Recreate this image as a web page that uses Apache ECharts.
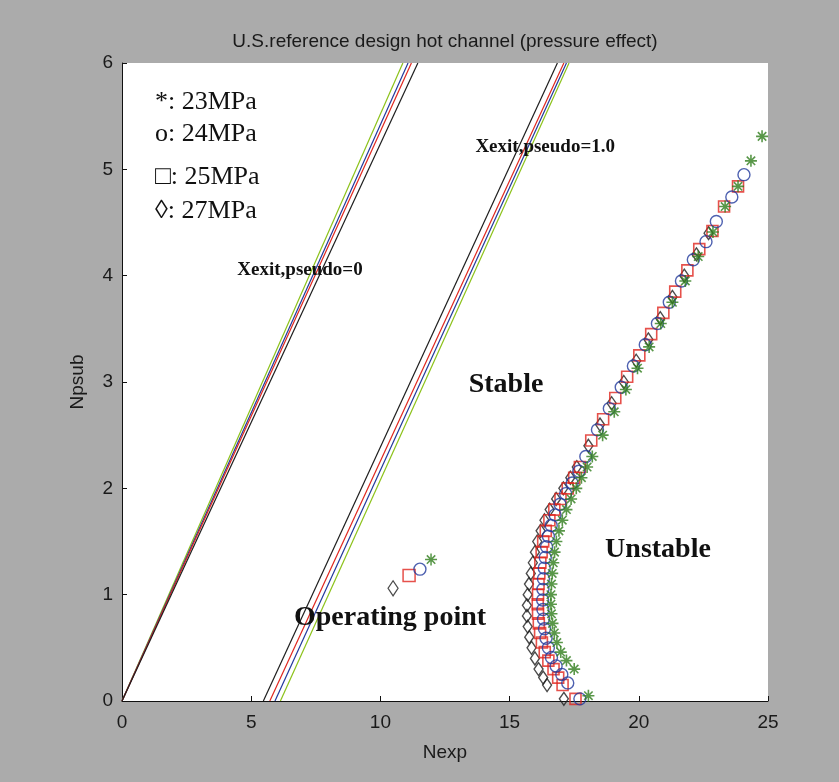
<!DOCTYPE html>
<html>
<head>
<meta charset="utf-8">
<script src="https://cdn.jsdelivr.net/npm/echarts@6/dist/echarts.min.js"></script>
<style>
html,body{margin:0;padding:0;background:#ababab;}
#c{width:839px;height:782px;}
</style>
</head>
<body>
<div id="c"></div>
<script>
// ---- data (Nexp, Npsub) ----
const xTickLabels = ['0','5','10','15','20','25'];
const yTickLabels = ['0','1','2','3','4','5','6'];
const legendTexts = ['*: 23MPa','o: 24MPa','\u25A1: 25MPa','\u25CA: 27MPa'];

// Xexit,pseudo = 0 lines
const x0_23 = [[0,0],[10.87,6]];
const x0_24 = [[0,0],[11.07,6]];
const x0_25 = [[0,0],[11.2,6]];
const x0_27 = [[0,0],[11.45,6]];
// Xexit,pseudo = 1.0 lines
const x1_23 = [[6.13,0],[17.3,6]];
const x1_24 = [[5.92,0],[17.2,6]];
const x1_25 = [[5.72,0],[17.1,6]];
const x1_27 = [[5.47,0],[16.85,6]];

// operating points
const op23 = [[11.96,1.33]];
const op24 = [[11.53,1.24]];
const op25 = [[11.11,1.18]];
const op27 = [[10.49,1.06]];

// neutral stability boundaries
const b27 = [[17.1,0.02],[16.45,0.15],[16.3,0.22],[16.12,0.3],[15.98,0.4],[15.85,0.5],[15.76,0.6],[15.7,0.7],[15.67,0.8],[15.67,0.9],[15.7,1.0],[15.75,1.1],[15.82,1.2],[15.9,1.3],[15.98,1.4],[16.07,1.5],[16.2,1.6],[16.35,1.7],[16.55,1.8],[16.8,1.9],[17.08,2.0],[17.35,2.1],[17.6,2.2],[18.05,2.4],[18.5,2.6],[18.95,2.8],[19.42,3.0],[19.9,3.2],[20.37,3.4],[20.83,3.6],[21.3,3.8],[21.76,4.0],[22.23,4.2],[22.7,4.4]];
const b25 = [[17.55,0.02],[17.05,0.15],[16.88,0.22],[16.7,0.3],[16.5,0.38],[16.36,0.46],[16.25,0.55],[16.18,0.64],[16.13,0.73],[16.1,0.82],[16.09,0.91],[16.1,1.0],[16.12,1.1],[16.15,1.2],[16.19,1.3],[16.24,1.4],[16.3,1.5],[16.4,1.6],[16.54,1.7],[16.73,1.8],[16.97,1.9],[17.25,2.0],[17.5,2.1],[17.72,2.2],[18.16,2.45],[18.62,2.65],[19.09,2.85],[19.55,3.05],[20.02,3.25],[20.48,3.45],[20.95,3.65],[21.41,3.85],[21.88,4.05],[22.34,4.25],[22.85,4.42],[23.3,4.65],[23.84,4.84]];
const b24 = [[17.72,0.02],[17.25,0.17],[17.02,0.25],[16.8,0.33],[16.62,0.41],[16.5,0.5],[16.41,0.59],[16.35,0.68],[16.31,0.77],[16.29,0.86],[16.28,0.95],[16.29,1.05],[16.31,1.15],[16.34,1.25],[16.38,1.35],[16.43,1.45],[16.5,1.55],[16.61,1.65],[16.76,1.75],[16.95,1.85],[17.17,1.95],[17.42,2.05],[17.68,2.16],[17.95,2.3],[18.4,2.55],[18.86,2.75],[19.32,2.95],[19.79,3.15],[20.25,3.35],[20.72,3.55],[21.18,3.75],[21.65,3.95],[22.11,4.15],[22.6,4.32],[23.0,4.51],[23.6,4.74],[24.07,4.95]];
const b23 = [[18.05,0.05],[17.5,0.3],[17.2,0.38],[16.98,0.46],[16.83,0.55],[16.73,0.64],[16.66,0.73],[16.62,0.82],[16.6,0.91],[16.6,1.0],[16.62,1.1],[16.65,1.2],[16.69,1.3],[16.74,1.4],[16.81,1.5],[16.91,1.6],[17.04,1.7],[17.2,1.8],[17.38,1.9],[17.58,2.0],[17.78,2.1],[18.0,2.2],[18.2,2.3],[18.6,2.5],[19.05,2.72],[19.5,2.93],[19.95,3.13],[20.4,3.33],[20.85,3.55],[21.3,3.75],[21.8,3.95],[22.3,4.18],[22.87,4.41],[23.34,4.65],[23.84,4.84],[24.34,5.08],[24.77,5.31]];

// ---- styles ----
const C_BLACK = '#1e1e1e', C_RED = '#e0261e', C_BLUE = '#22399c', C_GREEN = '#8cc21a', C_STAR = '#2f7d1c';
const starPath = 'path://M5,0L5,10M0,5L10,5M1.5,1.5L8.5,8.5M1.5,8.5L8.5,1.5';

function lineSeries(data, color) {
  return { type: 'line', data: data, showSymbol: false, silent: true, animation: false,
    lineStyle: { color: color, width: 1.2 }, z: 2 };
}
function markSeries(data, symbol, size, color, bw) {
  return { type: 'scatter', data: data, symbol: symbol, symbolSize: size, silent: true, animation: false,
    itemStyle: { color: 'rgba(0,0,0,0)', borderColor: color, borderWidth: bw }, z: 3 };
}

const chart = echarts.init(document.getElementById('c'), null, { renderer: 'canvas' });
const axisFont = { color: '#1a1a1a', fontSize: 19, fontFamily: 'Liberation Sans' };

chart.setOption({
  backgroundColor: '#ababab',
  animation: false,
  grid: { left: 122, right: 71, top: 63, bottom: 81, show: true, backgroundColor: '#ffffff', borderWidth: 0 },
  xAxis: {
    type: 'value', min: 0, max: 25, interval: 5,
    axisLine: { show: true, lineStyle: { color: '#111', width: 1 } },
    axisTick: { show: true, inside: true, length: 5, lineStyle: { color: '#111' } },
    axisLabel: Object.assign({ margin: 12, formatter: v => xTickLabels[Math.round(v / 5)] }, axisFont),
    splitLine: { show: false },
    name: 'Nexp', nameLocation: 'middle', nameGap: 42, nameTextStyle: axisFont
  },
  yAxis: {
    type: 'value', min: 0, max: 6, interval: 1,
    axisLine: { show: true, lineStyle: { color: '#111', width: 1 } },
    axisTick: { show: true, inside: true, length: 5, lineStyle: { color: '#111' } },
    axisLabel: Object.assign({ margin: 9, formatter: v => yTickLabels[Math.round(v)] }, axisFont),
    splitLine: { show: false },
    name: 'Npsub', nameLocation: 'middle', nameGap: 35, nameRotate: 90, nameTextStyle: axisFont
  },
  series: [
    lineSeries(x0_23, C_GREEN), lineSeries(x0_24, C_BLUE), lineSeries(x0_25, C_RED), lineSeries(x0_27, C_BLACK),
    lineSeries(x1_23, C_GREEN), lineSeries(x1_24, C_BLUE), lineSeries(x1_25, C_RED), lineSeries(x1_27, C_BLACK),
    markSeries(b27, 'diamond', [9, 13], C_BLACK, 1.4),
    markSeries(b25, 'rect', 11, C_RED, 1.6),
    markSeries(b24, 'circle', 12, C_BLUE, 1.4),
    markSeries(b23, starPath, 12, C_STAR, 1.6),
    markSeries(op27, 'diamond', [10, 15], C_BLACK, 1.3),
    markSeries(op25, 'rect', 12, C_RED, 1.5),
    markSeries(op24, 'circle', 12, C_BLUE, 1.4),
    markSeries(op23, starPath, 12, C_STAR, 1.5)
  ],
  graphic: [
    { type: 'text', x: 445, y: 42, silent: true, style: { text: 'U.S.reference design hot channel (pressure effect)', font: '19px "Liberation Sans"', fill: '#1a1a1a', textAlign: 'center', textVerticalAlign: 'middle' } },
    { type: 'text', x: 155, y: 102, silent: true, style: { text: legendTexts[0], font: '26px "Liberation Serif"', fill: '#111', textAlign: 'left', textVerticalAlign: 'middle' } },
    { type: 'text', x: 155, y: 134, silent: true, style: { text: legendTexts[1], font: '26px "Liberation Serif"', fill: '#111', textAlign: 'left', textVerticalAlign: 'middle' } },
    { type: 'text', x: 155, y: 177, silent: true, style: { text: legendTexts[2], font: '26px "Liberation Serif"', fill: '#111', textAlign: 'left', textVerticalAlign: 'middle' } },
    { type: 'text', x: 155, y: 211, silent: true, style: { text: legendTexts[3], font: '26px "Liberation Serif"', fill: '#111', textAlign: 'left', textVerticalAlign: 'middle' } },
    { type: 'text', x: 300, y: 270, silent: true, z: 10, style: { text: 'Xexit,pseudo=0', font: 'bold 19px "Liberation Serif"', fill: '#111', textAlign: 'center', textVerticalAlign: 'middle' } },
    { type: 'text', x: 615, y: 147, silent: true, z: 10, style: { text: 'Xexit,pseudo=1.0', font: 'bold 19px "Liberation Serif"', fill: '#111', textAlign: 'right', textVerticalAlign: 'middle' } },
    { type: 'text', x: 506, y: 385, silent: true, z: 10, style: { text: 'Stable', font: 'bold 28px "Liberation Serif"', fill: '#111', textAlign: 'center', textVerticalAlign: 'middle' } },
    { type: 'text', x: 658, y: 550, silent: true, z: 10, style: { text: 'Unstable', font: 'bold 28px "Liberation Serif"', fill: '#111', textAlign: 'center', textVerticalAlign: 'middle' } },
    { type: 'text', x: 390, y: 618, silent: true, z: 10, style: { text: 'Operating point', font: 'bold 28px "Liberation Serif"', fill: '#111', textAlign: 'center', textVerticalAlign: 'middle' } }
  ]
});
</script>
</body>
</html>
